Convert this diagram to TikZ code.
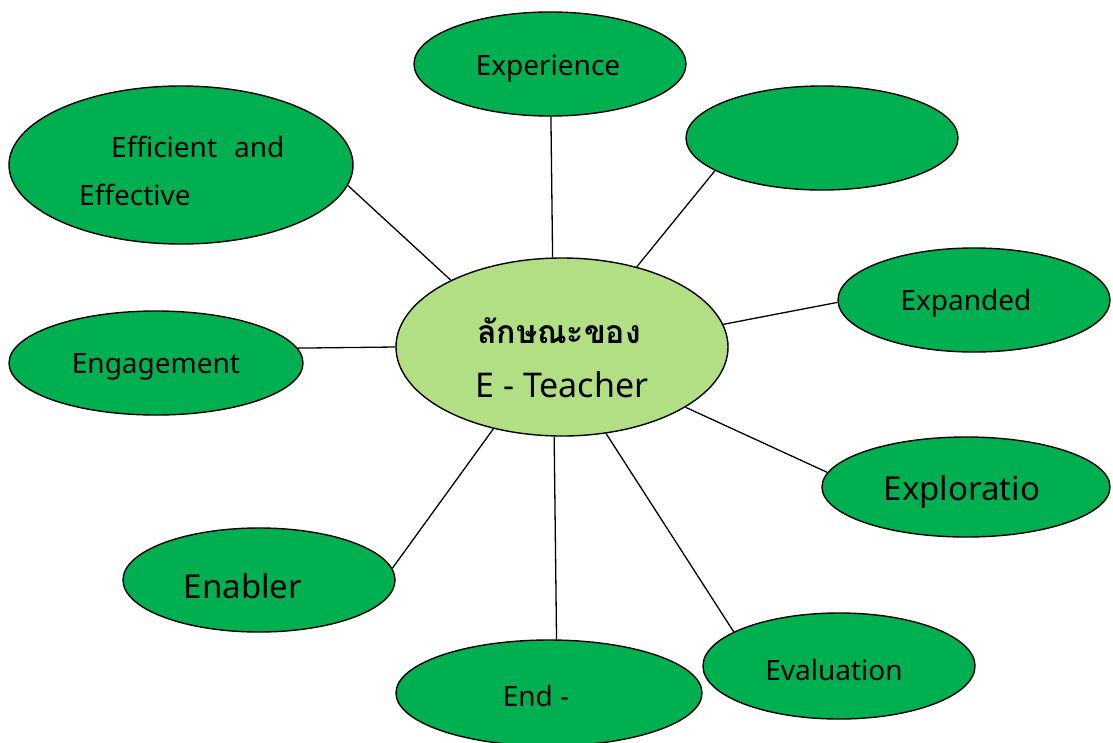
\documentclass[tikz,border=0pt]{standalone}
\usepackage{fontspec}
\setmainfont{Noto Sans}
\newfontfamily\thaifont[Script=Thai]{Loma}
\usetikzlibrary{shapes.geometric}
\definecolor{leafgreen}{RGB}{0,176,80}
\definecolor{hubgreen}{RGB}{178,222,132}
\tikzset{
  leaf/.style={ellipse, draw=black, line width=1.4pt, fill=leafgreen, inner sep=0pt},
  hub/.style={ellipse, draw=black, line width=1.4pt, fill=hubgreen, inner sep=0pt},
  link/.style={draw=black, line width=1.3pt},
  lbl/.style={inner sep=0pt, font=\fontsize{28}{32}\selectfont, yshift=-3pt},
  biglbl/.style={inner sep=0pt, font=\fontsize{33}{38}\selectfont, yshift=-3pt},
}
\begin{document}
\begin{tikzpicture}[x=1pt,y=-1pt]
\useasboundingbox (0,0) rectangle (1113,742);
% ellipses
\node[hub, minimum width=332pt, minimum height=178pt] (c) at (562,347) {};
\node[leaf, minimum width=272pt, minimum height=104pt] (exp) at (550,64) {};
\node[leaf, minimum width=272pt, minimum height=104pt] (emp) at (822,138) {};
\node[leaf, minimum width=344pt, minimum height=158pt] (eff) at (181,165) {};
\node[leaf, minimum width=272pt, minimum height=104pt] (xpd) at (974,300) {};
\node[leaf, minimum width=294pt, minimum height=104pt] (eng) at (156,363) {};
\node[leaf, minimum width=288pt, minimum height=100pt] (xpl) at (966,487) {};
\node[leaf, minimum width=272pt, minimum height=104pt] (ena) at (259,580) {};
\node[leaf, minimum width=306pt, minimum height=106pt] (end) at (549,693) {};
\node[leaf, minimum width=272pt, minimum height=106pt] (eva) at (839,666) {};
% connectors
\draw[link] (c.96.4) -- (exp.-89);
\draw[link] (c.47.3) -- (emp.-163.2);
\draw[link] (c.8.2) -- (xpd.-179.2);
\draw[link] (c.-26.2) -- (xpl.174.2);
\draw[link] (c.-63.4) -- (eva.162.8);
\draw[link] (c.-95) -- (end.82.5);
\draw[link] (c.-130.9) -- (ena.5.1);
\draw[link] (c.180) -- (eng.6.8);
\draw[link] (c.149) -- (eff.-7.2);
% labels
\node[biglbl, font=\fontsize{32}{36}\selectfont\thaifont\bfseries] (tc1) at (559,328) {ลักษณะของ};
\node[biglbl, font=\fontsize{34}{38}\selectfont] (tc2) at (562,382) {E - Teacher};
\node[lbl] (t1) at (548,66) {Experience};
\node[lbl, anchor=west] (t2a) at (111,144) {Efficient\hspace{17pt}and};
\node[lbl, anchor=west] (t2b) at (79,192) {Effective};
\node[lbl] (t3) at (966,300) {Expanded};
\node[lbl] (t4) at (156,364) {Engagement};
\node[biglbl] (t5) at (962,489) {Exploratio};
\node[biglbl] (t6) at (243,583) {Enabler};
\node[lbl] (t7) at (536,693) {End -};
\node[lbl] (t8) at (834,667) {Evaluation};
\end{tikzpicture}
\end{document}
